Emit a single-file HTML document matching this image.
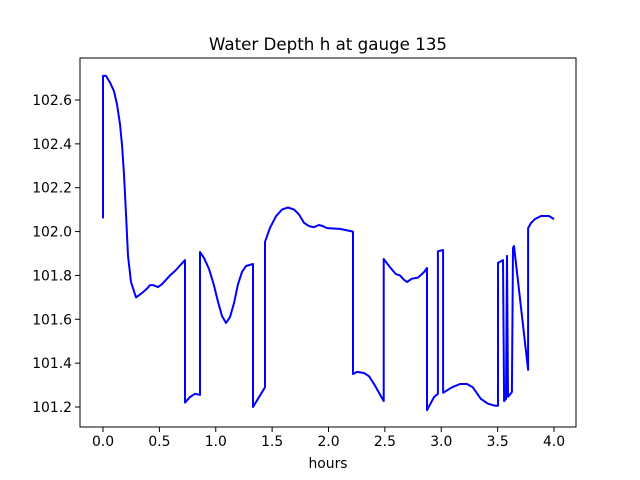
<!DOCTYPE html>
<html><head><meta charset="utf-8"><style>
body{margin:0;background:#fff;}
svg{display:block;font-family:"DejaVu Sans","Liberation Sans",sans-serif;}
</style></head><body>
<svg id="chart" width="640" height="480">
<rect x="0" y="0" width="640" height="480" fill="#fff"/>
<text x="328" y="50" text-anchor="middle" font-size="16.7">Water Depth h at gauge 135</text>
<g id="plot"></g>
<text x="328" y="468" text-anchor="middle" font-size="13.9">hours</text>
</svg>
<script>
const xTicks=[0,0.5,1,1.5,2,2.5,3,3.5,4];
const xTickLabels=["0.0","0.5","1.0","1.5","2.0","2.5","3.0","3.5","4.0"];
const yTicks=[101.2,101.4,101.6,101.8,102.0,102.2,102.4,102.6];
const yTickLabels=["101.2","101.4","101.6","101.8","102.0","102.2","102.4","102.6"];
const hours=[0,0,0.027,0.062,0.098,0.124,0.151,0.169,0.186,0.204,0.222,0.248,0.293,0.346,0.39,0.417,0.443,0.488,0.523,0.559,0.594,0.639,0.727,0.727,0.771,0.816,0.86,0.86,0.896,0.94,0.984,1.02,1.055,1.091,1.126,1.162,1.197,1.233,1.268,1.33,1.33,1.437,1.437,1.48,1.534,1.588,1.64,1.695,1.738,1.783,1.826,1.87,1.915,1.95,1.987,2.102,2.217,2.217,2.253,2.315,2.36,2.41,2.49,2.49,2.545,2.598,2.634,2.67,2.696,2.74,2.794,2.847,2.874,2.874,2.936,2.97,2.97,3.016,3.016,3.095,3.166,3.228,3.28,3.352,3.414,3.476,3.503,3.503,3.548,3.557,3.574,3.583,3.592,3.627,3.636,3.645,3.77,3.77,3.796,3.831,3.885,3.956,4.0];
const depth=[102.06,102.71,102.71,102.68,102.64,102.58,102.49,102.39,102.26,102.08,101.89,101.77,101.70,101.72,101.74,101.756,101.756,101.747,101.76,101.78,101.80,101.82,101.87,101.22,101.245,101.26,101.255,101.907,101.88,101.83,101.756,101.68,101.615,101.583,101.61,101.674,101.76,101.816,101.843,101.852,101.2,101.29,101.953,102.016,102.07,102.10,102.11,102.10,102.078,102.04,102.025,102.02,102.03,102.025,102.016,102.012,102.0,101.35,101.36,101.355,101.34,101.30,101.227,101.875,101.838,101.806,101.80,101.78,101.77,101.785,101.79,101.815,101.834,101.186,101.245,101.26,101.91,101.916,101.265,101.29,101.305,101.305,101.29,101.237,101.215,101.206,101.206,101.857,101.87,101.227,101.236,101.889,101.246,101.268,101.925,101.934,101.369,102.016,102.039,102.057,102.071,102.071,102.057];
const L=80,R=576,T=58,B=427;
const x=v=>103+(v-0)*112.75;
const y=v=>100+(102.6-v)*219.29;
const NS='http://www.w3.org/2000/svg';
const g=document.getElementById('plot');
function mk(tag,attrs){const e=document.createElementNS(NS,tag);for(const k in attrs)e.setAttribute(k,attrs[k]);g.appendChild(e);return e;}
const frame=mk('rect',{x:L,y:T,width:R-L,height:B-T,fill:'none',stroke:'#000','stroke-width':1});


xTicks.forEach((v,i)=>{
 const t=mk('line',{x1:x(v),x2:x(v),y1:B,y2:B+5,stroke:'#000','stroke-width':1});
 
 
 const s=mk('text',{x:x(v),y:B+19,'text-anchor':'middle','font-size':13.9});
 s.textContent=xTickLabels[i];
 
 
});
yTicks.forEach((v,i)=>{
 const t=mk('line',{x1:L-5,x2:L,y1:y(v),y2:y(v),stroke:'#000','stroke-width':1});
 
 
 const s=mk('text',{x:L-8,y:y(v)+5,'text-anchor':'end','font-size':13.9});
 s.textContent=yTickLabels[i];
 
 
});
const pts=hours.map((h,i)=>x(h).toFixed(1)+','+y(depth[i]).toFixed(1)).join(' ');
const line=mk('polyline',{points:pts,fill:'none',stroke:'#0000ff','stroke-width':2,'stroke-linejoin':'round'});


</script>
</body></html>
